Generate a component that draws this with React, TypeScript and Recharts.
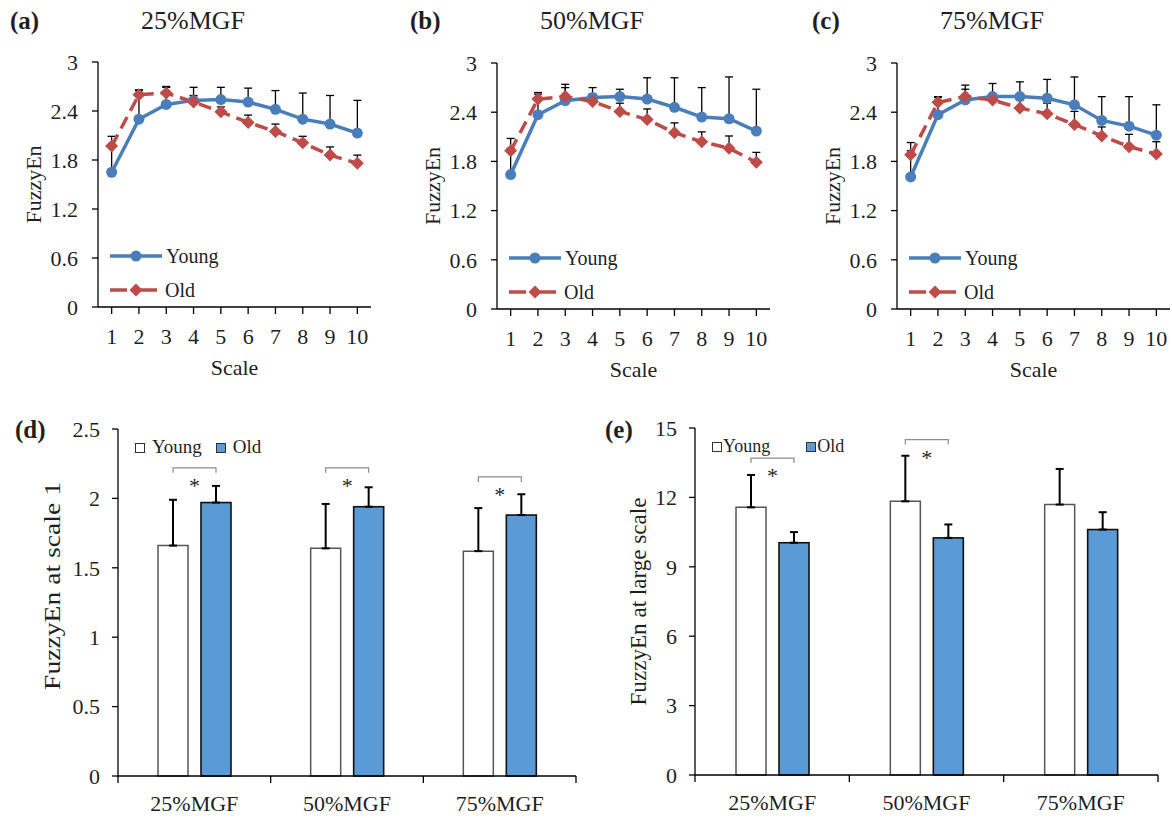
import { LineChart, Line, BarChart, Bar, XAxis, YAxis, ErrorBar, Legend } from 'recharts'

// ── Data ───────────────────────────────────────────────────────────────────

const scales = [1, 2, 3, 4, 5, 6, 7, 8, 9, 10]
const fuzzyTicks = [0, 0.6, 1.2, 1.8, 2.4, 3]

const young25 = [1.65, 2.30, 2.48, 2.53, 2.54, 2.51, 2.42, 2.30, 2.24, 2.13]
const young25Sd = [0.34, 0.36, 0.22, 0.16, 0.15, 0.17, 0.23, 0.32, 0.35, 0.40]
const old25 = [1.97, 2.60, 2.62, 2.51, 2.39, 2.26, 2.15, 2.01, 1.86, 1.76]
const old25Sd = [0.12, 0.05, 0.07, 0.08, 0.06, 0.09, 0.09, 0.08, 0.10, 0.10]

const young50 = [1.64, 2.37, 2.54, 2.58, 2.59, 2.56, 2.46, 2.34, 2.32, 2.17]
const young50Sd = [0.32, 0.27, 0.20, 0.12, 0.09, 0.26, 0.36, 0.36, 0.51, 0.51]
const old50 = [1.93, 2.56, 2.59, 2.53, 2.41, 2.31, 2.15, 2.04, 1.96, 1.79]
const old50Sd = [0.15, 0.06, 0.11, 0.09, 0.10, 0.13, 0.12, 0.12, 0.15, 0.12]

const young75 = [1.61, 2.37, 2.55, 2.59, 2.59, 2.57, 2.49, 2.30, 2.23, 2.12]
const young75Sd = [0.32, 0.22, 0.18, 0.16, 0.18, 0.23, 0.34, 0.29, 0.36, 0.37]
const old75 = [1.88, 2.52, 2.59, 2.55, 2.45, 2.38, 2.25, 2.11, 1.98, 1.89]
const old75Sd = [0.15, 0.06, 0.09, 0.07, 0.10, 0.13, 0.16, 0.11, 0.15, 0.15]

const groups = ['25%MGF', '50%MGF', '75%MGF']

const youngScale1 = [1.66, 1.64, 1.62]
const youngScale1Sd = [0.33, 0.32, 0.31]
const oldScale1 = [1.97, 1.94, 1.88]
const oldScale1Sd = [0.12, 0.14, 0.15]
const scale1Brackets = [2.22, 2.22, 2.155]
const scale1Ticks = [0, 0.5, 1, 1.5, 2, 2.5]

const youngLarge = [11.57, 11.83, 11.69]
const youngLargeSd = [1.40, 1.97, 1.54]
const oldLarge = [10.04, 10.25, 10.61]
const oldLargeSd = [0.46, 0.58, 0.75]
const largeBrackets = [13.7, 14.5, null]
const largeTicks = [0, 3, 6, 9, 12, 15]

// ── Styles ─────────────────────────────────────────────────────────────────

const FONT = '"Liberation Serif", "Times New Roman", serif'
const TEXT = '#1f1f1f'
const BLUE_LINE = '#4A7EBB'
const RED_LINE = '#BE4B48'
const BAR_BLUE = '#5B9BD5'
const BAR_GAP = 13
const BAR_SIZE = 30

const diamond = (cx: number, cy: number, r: number) =>
  `M${cx},${cy - r}L${cx + r},${cy}L${cx},${cy + r}L${cx - r},${cy}Z`

// eslint-disable-next-line @typescript-eslint/no-explicit-any
const OldDot = (p: any) => {
  if (p.cx == null || p.cy == null) return <g key={p.key} />
  return <path key={p.key} d={diamond(p.cx, p.cy, 6.5)} fill={RED_LINE} />
}

const LineLegend = () => (
  <div style={{ fontFamily: FONT, fontSize: 20, color: TEXT, lineHeight: '34px' }}>
    <div style={{ display: 'flex', alignItems: 'center', height: 34 }}>
      <svg width={54} height={16}>
        <line x1={0} y1={8} x2={52} y2={8} stroke={BLUE_LINE} strokeWidth={3.5} />
        <circle cx={26} cy={8} r={5.5} fill={BLUE_LINE} />
      </svg>
      <span style={{ marginLeft: 2 }}>Young</span>
    </div>
    <div style={{ display: 'flex', alignItems: 'center', height: 34 }}>
      <svg width={54} height={16}>
        <line x1={0} y1={8} x2={17} y2={8} stroke={RED_LINE} strokeWidth={3.5} />
        <line x1={23} y1={8} x2={47} y2={8} stroke={RED_LINE} strokeWidth={3.5} />
        <path d={diamond(26, 8, 6.5)} fill={RED_LINE} />
      </svg>
      <span style={{ marginLeft: 1 }}>Old</span>
    </div>
  </div>
)

// ── Line panels (a)–(c) ────────────────────────────────────────────────────

interface LineProps {
  left: number
  tag: string
  tagX: number
  title: string
  young: number[]
  youngSd: number[]
  old: number[]
  oldSd: number[]
  top: number
  plotH: number
  legendTop: number
  labelOffset: number
}

function LinePanel({ left, tag, tagX, title, young, youngSd, old, oldSd, top, plotH, legendTop, labelOffset }: LineProps) {
  const H = 390
  const data = scales.map((s, i) => ({
    scale: s,
    young: young[i],
    youngErr: [0, youngSd[i]],
    old: old[i],
    oldErr: [0, oldSd[i]],
  }))
  return (
    <div style={{ position: 'absolute', left, top: 0, width: 390, height: H }}>
      <div style={{ position: 'absolute', left: tagX, top: 6, fontSize: 25, fontWeight: 'bold', lineHeight: '30px' }}>{tag}</div>
      <div style={{ position: 'absolute', left: 193 - 60, width: 120, top: 6, textAlign: 'center', fontSize: 26, lineHeight: '30px' }}>{title}</div>
      <LineChart width={390} height={H} data={data} margin={{ top, right: 19, left: 38, bottom: 0 }}>
        <XAxis
          dataKey="scale"
          height={H - top - plotH}
          interval={0}
          padding={{ left: 13.65, right: 13.65 }}
          tickSize={7}
          tickMargin={14}
          stroke="#000"
          strokeWidth={1.3}
          tick={{ fill: TEXT, fontSize: 22, fontFamily: FONT }}
          label={{ value: 'Scale', position: 'insideBottom', offset: labelOffset, fill: TEXT, fontSize: 22, fontFamily: FONT }}
        />
        <YAxis
          width={60}
          domain={[0, 3]}
          ticks={fuzzyTicks}
          tickSize={6}
          tickMargin={14}
          stroke="#000"
          strokeWidth={1.3}
          tick={{ fill: TEXT, fontSize: 22, fontFamily: FONT }}
          label={{ value: 'FuzzyEn', angle: -90, position: 'insideLeft', offset: -5, style: { textAnchor: 'middle' }, fill: TEXT, fontSize: 22, fontFamily: FONT }}
        />
        <Legend
          layout="vertical"
          align="center"
          verticalAlign="middle"
          wrapperStyle={{ left: 110, top: legendTop, width: 'auto' }}
          content={() => <LineLegend />}
        />
        <Line
          dataKey="young"
          stroke={BLUE_LINE}
          strokeWidth={3.5}
          dot={{ r: 5.5, fill: BLUE_LINE, stroke: BLUE_LINE, strokeWidth: 0 }}
          activeDot={false}
          isAnimationActive={false}
        >
          <ErrorBar dataKey="youngErr" width={4} stroke="#000" strokeWidth={1.3} isAnimationActive={false} />
        </Line>
        <Line
          dataKey="old"
          stroke={RED_LINE}
          strokeWidth={3.5}
          strokeDasharray="13 7"
          dot={OldDot}
          activeDot={false}
          isAnimationActive={false}
        >
          <ErrorBar dataKey="oldErr" width={4} stroke="#000" strokeWidth={1.3} isAnimationActive={false} />
        </Line>
      </LineChart>
    </div>
  )
}

// ── Bar panels (d), (e) ────────────────────────────────────────────────────

// eslint-disable-next-line @typescript-eslint/no-explicit-any
const OldBarShape = (p: any) => {
  const { x, y, width, height, payload } = p
  const bracket = payload?.bracket
  let extra = null
  if (bracket != null && height > 0) {
    const base = y + height
    const by = base - (bracket * height) / payload.old
    const x2 = x + width / 2
    const x1 = x2 - (width + BAR_GAP)
    extra = (
      <g>
        <path d={`M${x1},${by + 5}V${by}H${x2}V${by + 5}`} fill="none" stroke="#8c8c8c" strokeWidth={1.2} />
        <text x={(x1 + x2) / 2} y={by + 25} textAnchor="middle" fontSize={22} fill={TEXT} fontFamily={FONT}>*</text>
      </g>
    )
  }
  return (
    <g>
      <rect x={x} y={y} width={width} height={height} fill={BAR_BLUE} stroke="#111" strokeWidth={1.6} />
      {extra}
    </g>
  )
}

// eslint-disable-next-line @typescript-eslint/no-explicit-any
const GroupTick = (p: any) => {
  const { x, y, payload, halfBand } = p
  const half = payload?.offset ?? halfBand
  const idx = p.index ?? payload?.index
  const axisY = y - 19
  return (
    <g>
      <line x1={x - half} y1={axisY} x2={x - half} y2={axisY + 7} stroke="#000" strokeWidth={1.3} />
      {idx === groups.length - 1 && (
        <line x1={x + half} y1={axisY} x2={x + half} y2={axisY + 7} stroke="#000" strokeWidth={1.3} />
      )}
      <text x={x} y={y} dy="0.71em" textAnchor="middle" fontSize={22} fill={TEXT} fontFamily={FONT}>
        {payload.value}
      </text>
    </g>
  )
}

interface BarLegendProps {
  gap: number
  spacing: number
  fontSize: number
}

const BarLegend = ({ gap, spacing, fontSize }: BarLegendProps) => {
  const sq = (fill: string) => (
    <span style={{ display: 'inline-block', width: 10, height: 10, boxSizing: 'border-box', border: '1px solid #333', background: fill }} />
  )
  return (
    <div style={{ display: 'flex', alignItems: 'baseline', fontFamily: FONT, fontSize, lineHeight: '20px', color: TEXT, whiteSpace: 'nowrap' }}>
      {sq('#fff')}
      <span style={{ marginLeft: gap }}>Young</span>
      <span style={{ marginLeft: spacing }}>{sq(BAR_BLUE)}</span>
      <span style={{ marginLeft: gap }}>Old</span>
    </div>
  )
}

interface BarProps {
  left: number
  width: number
  tag: string
  tagX: number
  yTitle: string
  titleDist: number
  titleShift: number
  young: number[]
  youngSd: number[]
  old: number[]
  oldSd: number[]
  brackets: (number | null)[]
  ticks: number[]
  axisWidth: number
  top: number
  right: number
  legendLeft: number
  legendTop: number
  legend: BarLegendProps
}

function BarPanel(props: BarProps) {
  const { left, width, tag, tagX, yTitle, titleDist, titleShift, young, youngSd, old, oldSd, brackets, ticks, axisWidth, top, right, legendLeft, legendTop, legend } = props
  const H = 438
  const plotH = 347
  const plotW = width - 20 - axisWidth - right
  const data = groups.map((g, i) => ({
    group: g,
    young: young[i],
    youngErr: [0, youngSd[i]],
    old: old[i],
    oldErr: [0, oldSd[i]],
    bracket: brackets[i],
  }))
  const max = ticks[ticks.length - 1]
  return (
    <div style={{ position: 'absolute', left, top: 380, width, height: H }}>
      <div style={{ position: 'absolute', left: tagX, top: 35, fontSize: 25, fontWeight: 'bold', lineHeight: '30px' }}>{tag}</div>
      <BarChart width={width} height={H} data={data} margin={{ top, right, left: 20, bottom: 0 }} barGap={BAR_GAP} barSize={BAR_SIZE}>
        <XAxis
          dataKey="group"
          height={H - top - plotH}
          interval={0}
          tickSize={7}
          tickMargin={12}
          tickLine={false}
          stroke="#000"
          strokeWidth={1.3}
          tick={(tp: object) => <GroupTick {...tp} halfBand={plotW / groups.length / 2} />}
        />
        <YAxis
          width={axisWidth}
          domain={[0, max]}
          ticks={ticks}
          tickSize={6}
          tickMargin={12}
          stroke="#000"
          strokeWidth={1.3}
          tick={{ fill: TEXT, fontSize: 22, fontFamily: FONT }}
          // eslint-disable-next-line @typescript-eslint/no-explicit-any
          label={(lp: any) => {
            const vb = lp?.viewBox ?? { x: 20, y: top, width: axisWidth, height: plotH }
            const cx = vb.x + vb.width - titleDist
            const cy = vb.y + vb.height / 2 + titleShift
            return (
              <text
                x={cx}
                y={cy}
                transform={`rotate(-90 ${cx} ${cy})`}
                textAnchor="middle"
                dominantBaseline="central"
                fontSize={23}
                fill={TEXT}
                fontFamily={FONT}
                textLength={208}
                lengthAdjust="spacingAndGlyphs"
              >
                {yTitle}
              </text>
            )
          }}
        />
        <Legend
          layout="vertical"
          align="center"
          verticalAlign="middle"
          wrapperStyle={{ left: legendLeft, top: legendTop, width: 'auto' }}
          content={() => <BarLegend {...legend} />}
        />
        <Bar dataKey="young" fill="#fff" stroke="#555" strokeWidth={1.5} isAnimationActive={false}>
          <ErrorBar dataKey="youngErr" width={4} stroke="#000" strokeWidth={2} isAnimationActive={false} />
        </Bar>
        <Bar dataKey="old" fill={BAR_BLUE} shape={OldBarShape} isAnimationActive={false}>
          <ErrorBar dataKey="oldErr" width={4} stroke="#000" strokeWidth={2} isAnimationActive={false} />
        </Bar>
      </BarChart>
    </div>
  )
}

// ── App ────────────────────────────────────────────────────────────────────

export default function App() {
  return (
    <div
      style={{
        position: 'absolute', left: 0, top: 0, width: 1172, height: 818,
        overflow: 'hidden', background: '#fff', fontFamily: FONT, color: TEXT,
      }}
    >
      <LinePanel left={0} tag="(a)" tagX={10} title="25%MGF" young={young25} youngSd={young25Sd} old={old25} oldSd={old25Sd}
        top={62} plotH={245} legendTop={239} labelOffset={15} />
      <LinePanel left={399} tag="(b)" tagX={11} title="50%MGF" young={young50} youngSd={young50Sd} old={old50} oldSd={old50Sd}
        top={63} plotH={246} legendTop={241} labelOffset={13} />
      <LinePanel left={799} tag="(c)" tagX={13} title="75%MGF" young={young75} youngSd={young75Sd} old={old75} oldSd={old75Sd}
        top={63} plotH={246} legendTop={241} labelOffset={13} />

      <BarPanel left={0} width={600} tag="(d)" tagX={15} yTitle="FuzzyEn at scale 1" titleDist={65.7} titleShift={-16.5}
        young={youngScale1} youngSd={youngScale1Sd} old={oldScale1} oldSd={oldScale1Sd} brackets={scale1Brackets}
        ticks={scale1Ticks} axisWidth={98} top={49} right={24}
        legendLeft={135} legendTop={57} legend={{ gap: 7, spacing: 14, fontSize: 19 }} />
      <BarPanel left={590} width={582} tag="(e)" tagX={15} yTitle="FuzzyEn at large scale" titleDist={57} titleShift={0}
        young={youngLarge} youngSd={youngLargeSd} old={oldLarge} oldSd={oldLargeSd} brackets={largeBrackets}
        ticks={largeTicks} axisWidth={85} top={48} right={14}
        legendLeft={122} legendTop={56} legend={{ gap: 1, spacing: 36, fontSize: 18 }} />
    </div>
  )
}
